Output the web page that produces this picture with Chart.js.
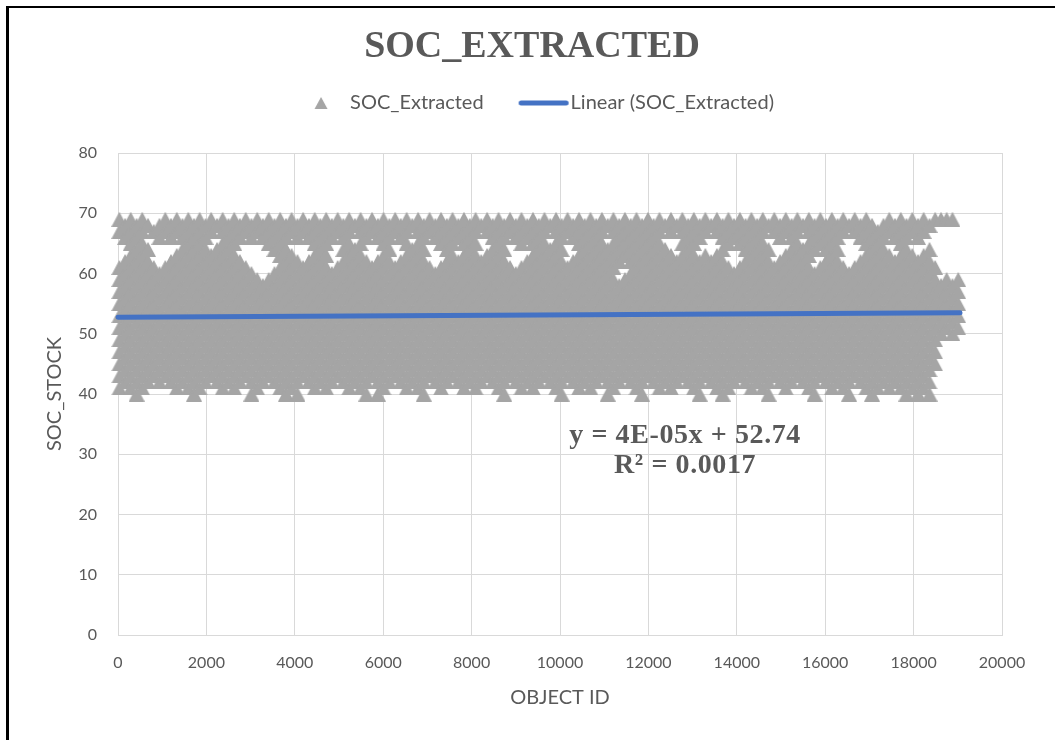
<!DOCTYPE html>
<html><head><meta charset="utf-8">
<script src="https://cdn.jsdelivr.net/npm/chart.js@4/dist/chart.umd.min.js"></script>
<style>
html,body{margin:0;padding:0;background:#fff;}
#wrap{position:relative;width:1055px;height:740px;overflow:hidden;}
#frame{position:absolute;left:6px;top:6px;right:0;bottom:0;border-left:3px solid #000;border-top:2px solid #000;pointer-events:none;}
canvas{display:block;}
</style></head><body>
<div id="wrap"><canvas id="c" width="1055" height="740"></canvas><div id="frame"></div></div>
<script>
// ---- texts ----
const chartTitle = 'SOC_EXTRACTED';
const seriesName = 'SOC_Extracted';
const trendName = 'Linear (SOC_Extracted)';
const xAxisTitle = 'OBJECT ID';
const yAxisTitle = 'SOC_STOCK';
const trendEquation = ['y = 4E-05x + 52.74', 'R\u00b2 = 0.0017'];

// ---- tick labels ----
const xTicks = [0, 2000, 4000, 6000, 8000, 10000, 12000, 14000, 16000, 18000, 20000];
const yTicks = [0, 10, 20, 30, 40, 50, 60, 70, 80];

// ---- data: OBJECT ID columns and SOC_STOCK values read in each column ----
const objectId = [
30,160,288,420,548,680,810,938,1070,1198,
1330,1458,1590,1720,1848,1980,2108,2240,2368,2500,
2630,2758,2890,3018,3150,3278,3410,3540,3668,3800,
3928,4060,4188,4320,4450,4578,4710,4838,4970,5098,
5230,5360,5488,5620,5748,5880,6008,6140,6270,6398,
6530,6658,6790,6918,7050,7180,7308,7440,7568,7700,
7828,7960,8090,8218,8350,8478,8610,8738,8870,9000,
9128,9260,9388,9520,9648,9780,9910,10038,10170,10298,
10430,10558,10690,10820,10948,11080,11208,11340,11468,11600,
11730,11858,11990,12118,12250,12378,12510,12640,12768,12900,
13028,13160,13288,13420,13550,13678,13810,13938,14070,14198,
14330,14460,14588,14720,14848,14980,15108,15240,15370,15498,
15630,15758,15890,16018,16150,16280,16408,16540,16668,16800,
16928,17060,17190,17318,17450,17578,17710,17838,17970,18100,
18228,18360,18488,18620,18748,18880,19010];

const socStock = [
[41,43,45,47,49,51,53,55,57,59,61,67,69],
[42,44,46,48,50,52,54,56,58,60,62,66,68],
[41,43,45,47,49,51,53,55,57,59,61,63,65,67,69],
[40,42,44,46,48,50,52,54,56,58,60,62,64,66,68],
[41,43,45,47,49,51,53,55,57,59,61,63,65,67,69],
[42,44,46,48,50,52,54,56,58,60,62,64,68],
[43,45,47,49,51,53,55,57,59,61,67],
[42,44,46,48,50,52,54,56,58,60,66,68],
[43,45,47,49,51,53,55,57,59,61,67,69],
[42,44,46,48,50,52,54,56,58,60,62,66,68],
[41,43,45,47,49,51,53,55,57,59,61,63,67,69],
[42,44,46,48,50,52,54,56,58,60,62,64,66,68],
[41,43,45,47,49,51,53,55,57,59,61,63,65,67,69],
[40,42,44,46,48,50,52,54,56,58,60,62,64,66,68],
[41,43,45,47,49,51,53,55,57,59,61,63,65,67,69],
[42,44,46,48,50,52,54,56,58,60,62,64,66,68],
[43,45,47,49,51,53,55,57,59,61,63,67,69],
[42,44,46,48,50,52,54,56,58,60,62,64,68],
[41,43,45,47,49,51,53,55,57,59,61,63,65,67,69],
[42,44,46,48,50,52,54,56,58,60,62,64,66,68],
[41,43,45,47,49,51,53,55,57,59,61,63,65,67,69],
[42,44,46,48,50,52,54,56,58,60,62,66,68],
[43,45,47,49,51,53,55,57,59,61,67,69],
[40,42,44,46,48,50,52,54,56,58,60,66,68],
[41,43,45,47,49,51,53,55,57,59,67,69],
[42,44,46,48,50,52,54,56,58,66,68],
[43,45,47,49,51,53,55,57,59,65,67,69],
[42,44,46,48,50,52,54,56,58,60,64,66,68],
[41,43,45,47,49,51,53,55,57,59,61,63,65,67,69],
[40,42,44,46,48,50,52,54,56,58,60,62,64,66,68],
[41,43,45,47,49,51,53,55,57,59,61,63,67,69],
[40,42,44,46,48,50,52,54,56,58,60,62,66,68],
[43,45,47,49,51,53,55,57,59,61,67,69],
[42,44,46,48,50,52,54,56,58,60,62,66,68],
[41,43,45,47,49,51,53,55,57,59,61,63,65,67,69],
[42,44,46,48,50,52,54,56,58,60,62,64,66,68],
[41,43,45,47,49,51,53,55,57,59,61,63,65,67,69],
[42,44,46,48,50,52,54,56,58,60,66,68],
[43,45,47,49,51,53,55,57,59,61,67,69],
[42,44,46,48,50,52,54,56,58,60,62,64,66,68],
[41,43,45,47,49,51,53,55,57,59,61,63,65,67,69],
[42,44,46,48,50,52,54,56,58,60,62,64,68],
[41,43,45,47,49,51,53,55,57,59,61,63,65,67,69],
[40,42,44,46,48,50,52,54,56,58,60,62,66,68],
[43,45,47,49,51,53,55,57,59,61,67,69],
[40,42,44,46,48,50,52,54,56,58,60,62,66,68],
[41,43,45,47,49,51,53,55,57,59,61,63,65,67,69],
[42,44,46,48,50,52,54,56,58,60,62,64,66,68],
[43,45,47,49,51,53,55,57,59,61,67,69],
[42,44,46,48,50,52,54,56,58,60,62,66,68],
[41,43,45,47,49,51,53,55,57,59,61,63,65,67,69],
[42,44,46,48,50,52,54,56,58,60,62,64,68],
[41,43,45,47,49,51,53,55,57,59,61,63,65,67,69],
[40,42,44,46,48,50,52,54,56,58,60,62,64,66,68],
[43,45,47,49,51,53,55,57,59,61,67,69],
[42,44,46,48,50,52,54,56,58,60,66,68],
[41,43,45,47,49,51,53,55,57,59,61,65,67,69],
[42,44,46,48,50,52,54,56,58,60,62,64,66,68],
[43,45,47,49,51,53,55,57,59,61,63,65,67,69],
[42,44,46,48,50,52,54,56,58,60,62,66,68],
[41,43,45,47,49,51,53,55,57,59,61,63,65,67,69],
[42,44,46,48,50,52,54,56,58,60,62,64,66,68],
[41,43,45,47,49,51,53,55,57,59,61,63,65,67,69],
[42,44,46,48,50,52,54,56,58,60,62,68],
[43,45,47,49,51,53,55,57,59,61,63,67,69],
[42,44,46,48,50,52,54,56,58,60,62,64,66,68],
[41,43,45,47,49,51,53,55,57,59,61,63,65,67,69],
[40,42,44,46,48,50,52,54,56,58,60,62,64,66,68],
[43,45,47,49,51,53,55,57,59,61,67,69],
[42,44,46,48,50,52,54,56,58,60,66,68],
[41,43,45,47,49,51,53,55,57,59,61,65,67,69],
[42,44,46,48,50,52,54,56,58,60,62,66,68],
[41,43,45,47,49,51,53,55,57,59,61,63,65,67,69],
[42,44,46,48,50,52,54,56,58,60,62,64,66,68],
[43,45,47,49,51,53,55,57,59,61,63,65,67,69],
[42,44,46,48,50,52,54,56,58,60,62,64,68],
[41,43,45,47,49,51,53,55,57,59,61,63,65,67,69],
[40,42,44,46,48,50,52,54,56,58,60,62,64,66,68],
[43,45,47,49,51,53,55,57,59,61,67,69],
[42,44,46,48,50,52,54,56,58,60,62,66,68],
[41,43,45,47,49,51,53,55,57,59,61,63,65,67,69],
[42,44,46,48,50,52,54,56,58,60,62,64,66,68],
[41,43,45,47,49,51,53,55,57,59,61,63,65,67,69],
[42,44,46,48,50,52,54,56,58,60,62,64,66,68],
[43,45,47,49,51,53,55,57,59,61,63,65,67,69],
[40,42,44,46,48,50,52,54,56,58,60,62,64,68],
[41,43,45,47,49,51,53,55,57,59,61,63,65,67,69],
[42,44,46,48,50,52,54,56,58,62,64,66,68],
[43,45,47,49,51,53,55,57,59,63,65,67,69],
[42,44,46,48,50,52,54,56,58,60,62,64,66,68],
[41,43,45,47,49,51,53,55,57,59,61,63,65,67,69],
[40,42,44,46,48,50,52,54,56,58,60,62,64,66,68],
[43,45,47,49,51,53,55,57,59,61,63,65,67,69],
[42,44,46,48,50,52,54,56,58,60,62,64,66,68],
[41,43,45,47,49,51,53,55,57,59,61,63,65,67,69],
[42,44,46,48,50,52,54,56,58,60,62,64,68],
[41,43,45,47,49,51,53,55,57,59,61,63,67,69],
[42,44,46,48,50,52,54,56,58,60,62,68],
[43,45,47,49,51,53,55,57,59,61,63,65,67,69],
[42,44,46,48,50,52,54,56,58,60,62,64,66,68],
[41,43,45,47,49,51,53,55,57,59,61,63,65,67,69],
[40,42,44,46,48,50,52,54,56,58,60,62,66,68],
[43,45,47,49,51,53,55,57,59,61,63,67,69],
[42,44,46,48,50,52,54,56,58,60,62,68],
[41,43,45,47,49,51,53,55,57,59,61,63,67,69],
[40,42,44,46,48,50,52,54,56,58,60,62,64,66,68],
[41,43,45,47,49,51,53,55,57,59,61,65,67,69],
[42,44,46,48,50,52,54,56,58,60,66,68],
[43,45,47,49,51,53,55,57,59,61,65,67,69],
[42,44,46,48,50,52,54,56,58,60,62,64,66,68],
[41,43,45,47,49,51,53,55,57,59,61,63,65,67,69],
[42,44,46,48,50,52,54,56,58,60,62,64,66,68],
[41,43,45,47,49,51,53,55,57,59,61,63,65,67,69],
[40,42,44,46,48,50,52,54,56,58,60,62,64,68],
[43,45,47,49,51,53,55,57,59,61,67,69],
[42,44,46,48,50,52,54,56,58,60,62,66,68],
[41,43,45,47,49,51,53,55,57,59,61,63,67,69],
[42,44,46,48,50,52,54,56,58,60,62,64,66,68],
[43,45,47,49,51,53,55,57,59,61,63,65,67,69],
[42,44,46,48,50,52,54,56,58,60,62,64,68],
[41,43,45,47,49,51,53,55,57,59,61,63,65,67,69],
[40,42,44,46,48,50,52,54,56,58,60,64,66,68],
[43,45,47,49,51,53,55,57,59,61,65,67,69],
[42,44,46,48,50,52,54,56,58,60,62,64,66,68],
[41,43,45,47,49,51,53,55,57,59,61,63,65,67,69],
[42,44,46,48,50,52,54,56,58,60,62,64,66,68],
[41,43,45,47,49,51,53,55,57,59,61,67,69],
[40,42,44,46,48,50,52,54,56,58,60,68],
[43,45,47,49,51,53,55,57,59,61,67,69],
[42,44,46,48,50,52,54,56,58,60,62,66,68],
[41,43,45,47,49,51,53,55,57,59,61,63,65,67,69],
[40,42,44,46,48,50,52,54,56,58,60,62,64,66,68],
[41,43,45,47,49,51,53,55,57,59,61,63,65,67],
[42,44,46,48,50,52,54,56,58,60,62,64,66,68],
[41,43,45,47,49,51,53,55,57,59,61,63,67,69],
[42,44,46,48,50,52,54,56,58,60,62,66,68],
[41,43,45,47,49,51,53,55,57,59,61,63,65,67,69],
[40,42,44,46,48,50,52,54,56,58,60,62,64,66,68],
[41,43,45,47,49,51,53,55,57,59,61,63,67,69],
[40,42,44,46,48,50,52,54,56,58,60,62,66,68],
[41,43,45,47,49,51,53,55,57,59,61,63,67,69],
[40,42,44,46,48,50,52,54,56,58,60,62,64,68],
[45,47,49,51,53,55,57,59,61,69],
[50,52,54,56,58,69],
[51,53,55,57,59,69],
[50,52,54,56,58,69],
[51,53,55,57,59]];

// ---- linear trendline end points ----
const trendX = [0, 19050];
const trendY = [52.74, 53.50];

// ---- styling / placement (not data) ----
const GRAY = '#A5A5A5', BLUE = '#4472C4', TEXT = '#595959', GRID = '#D9D9D9';
const SANS = "Lato, 'Open Sans', sans-serif";
const SERIF = "'Liberation Serif', 'Times New Roman', serif";
const eqAnchorX = 12830, eqAnchorY = [33.0, 28.05];

function triangleCanvas(w, h, cw, ch, cx) {
  const c = document.createElement('canvas');
  c.width = cw; c.height = ch;
  const g = c.getContext('2d');
  g.fillStyle = GRAY;
  g.beginPath();
  g.moveTo(cx - w / 2, (ch + h) / 2);
  g.lineTo(cx, (ch - h) / 2);
  g.lineTo(cx + w / 2, (ch + h) / 2);
  g.closePath();
  g.fill();
  return c;
}
const marker = triangleCanvas(16, 15, 16, 15, 8);
const legendMarker = triangleCanvas(13, 12, 28, 14, 20);
const legendLine = (() => {
  const c = document.createElement('canvas');
  c.width = 68; c.height = 8;
  const g = c.getContext('2d');
  g.strokeStyle = BLUE; g.lineWidth = 5; g.lineCap = 'round';
  g.beginPath(); g.moveTo(19.5, 4); g.lineTo(64.5, 4); g.stroke();
  return c;
})();

const points = [];
objectId.forEach((id, i) => socStock[i].forEach(v => points.push({x: id, y: v})));
const trendPoints = trendX.map((x, i) => ({x, y: trendY[i]}));

const equationPlugin = {
  id: 'equation',
  afterDatasetsDraw(chart) {
    const {ctx, scales: {x, y}} = chart;
    ctx.save();
    ctx.font = 'bold 28px ' + SERIF;
    ctx.fillStyle = TEXT;
    ctx.textAlign = 'center';
    ctx.textBaseline = 'middle';
    if ('letterSpacing' in ctx) ctx.letterSpacing = '0.6px';
    trendEquation.forEach((t, i) => ctx.fillText(t, x.getPixelForValue(eqAnchorX), y.getPixelForValue(eqAnchorY[i])));
    ctx.restore();
  }
};

new Chart(document.getElementById('c'), {
  type: 'scatter',
  data: {
    datasets: [
      {label: trendName, data: trendPoints, showLine: true, borderColor: BLUE, borderWidth: 5,
       borderCapStyle: 'round', pointRadius: 0, order: 0, clip: false},
      {label: seriesName, data: points, pointStyle: marker, pointRadius: 8, backgroundColor: GRAY,
       borderColor: GRAY, order: 1, clip: false}
    ]
  },
  options: {
    responsive: false,
    animation: false,
    events: [],
    devicePixelRatio: 1,
    layout: {padding: {left: 9, right: 0, top: 0, bottom: 0}},
    plugins: {
      tooltip: {enabled: false},
      title: {display: true, text: chartTitle, color: TEXT,
              font: {family: SERIF, size: 38, weight: 'bold', lineHeight: 1},
              padding: {top: 28, bottom: 0}},
      subtitle: {display: true, text: '', weight: 500, font: {size: 10, lineHeight: 1},
                 padding: {top: 0, bottom: 20}},
      legend: {
        display: true, position: 'top',
        labels: {
          usePointStyle: true, pointStyleWidth: 50, padding: 27, color: TEXT,
          font: {family: SANS, size: 20},
          generateLabels: () => [
            {text: seriesName, pointStyle: legendMarker, fillStyle: GRAY, strokeStyle: GRAY,
             lineWidth: 0, hidden: false, datasetIndex: 1, fontColor: TEXT},
            {text: trendName, pointStyle: legendLine, fillStyle: BLUE, strokeStyle: BLUE,
             lineWidth: 0, hidden: false, datasetIndex: 0, fontColor: TEXT}
          ]
        }
      }
    },
    scales: {
      x: {
        type: 'linear', position: 'bottom', min: 0, max: 20000,
        afterBuildTicks: s => { s.ticks = xTicks.map(v => ({value: v})); },
        afterFit: s => { s.height = 105; },
        grid: {color: GRID, lineWidth: 1, drawTicks: false},
        border: {color: GRID, width: 1},
        ticks: {color: TEXT, font: {family: SANS, size: 16}, padding: 18, maxRotation: 0,
                autoSkip: false, callback: v => String(v)},
        title: {display: true, text: xAxisTitle, color: TEXT, font: {family: SANS, size: 20},
                padding: {top: 0, bottom: 30}}
      },
      y: {
        type: 'linear', position: 'left', min: 0, max: 80,
        afterBuildTicks: s => { s.ticks = yTicks.map(v => ({value: v})); },
        afterFit: s => { s.width = 109; },
        grid: {color: GRID, lineWidth: 1, drawTicks: false},
        border: {color: GRID, width: 1},
        ticks: {color: TEXT, font: {family: SANS, size: 16}, padding: 21, callback: v => String(v)},
        title: {display: true, text: yAxisTitle, color: TEXT, font: {family: SANS, size: 20},
                padding: {top: 34, bottom: 0}}
      },
      y2: {
        type: 'linear', position: 'right', display: true,
        grid: {display: false}, border: {display: false}, ticks: {display: false},
        afterFit: s => { s.width = 53; }
      }
    }
  },
  plugins: [equationPlugin]
});
</script>
</body></html>
